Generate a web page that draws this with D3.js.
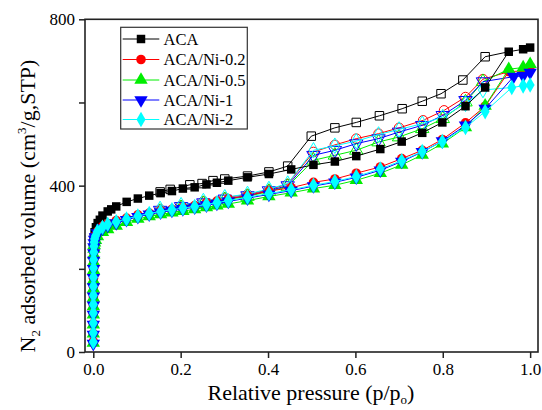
<!DOCTYPE html>
<html><head><meta charset="utf-8">
<script src="https://cdn.jsdelivr.net/npm/d3@7"></script>
<style>body{margin:0;background:#fff}svg{display:block}</style>
</head><body><svg id="c" width="542" height="410"></svg>
<script>
const seriesNames = ["ACA","ACA/Ni-0.2","ACA/Ni-0.5","ACA/Ni-1","ACA/Ni-2"];
const seriesColors = ["#000000","#ff0000","#00ee00","#0000ff","#00ffff"];
const xTicks = [0,0.2,0.4,0.6,0.8,1.0];
const yTicks = [0,200,400,600,800];
const yTickLabels = ["0","","400","","800"];

const lowX = [0.00001,0.00003,0.00006,0.0001,0.00015,0.0002,0.0003,0.0004,0.0006,0.0008,0.0011,0.0015,0.002,0.003,0.005,0.0095,0.021,0.033,0.0525,0.076,0.102,0.128,0.154,0.18,0.205,0.232,0.259,0.283,0.309,0.353,0.402,0.453,0.504,0.553,0.602,0.657,0.706,0.753,0.799,0.852,0.897];

const acaAdsX = [0.0002,0.001,0.003,0.006,0.01,0.015,0.021,0.033,0.041,0.0525,0.0764,0.102,0.128,0.154,0.18,0.205,0.232,0.259,0.283,0.309,0.353,0.402,0.453,0.504,0.553,0.602,0.657,0.706,0.753,0.799,0.852,0.897,0.951,0.984,1.0];
const acaAdsY = [262,275,288,300,310,318,328,338,343,350,361,369,376,382,387,393,396,403,407,412,420,428,439,450,458,471,488,506,527,552,591,636,722,728,732];
const acaDesX = [0.951,0.897,0.846,0.796,0.753,0.707,0.655,0.602,0.553,0.499,0.445,0.402,0.353,0.301,0.274,0.249,0.221,0.176,0.153];
const acaDesY = [722,710,654,621,603,585,568,552,539,519,447,433,423,416,412,405,402,391,385];

const ni02AdsX = lowX.concat([0.951,0.984,1.0]);
const ni02AdsY = [25,45,69,93,113,133,157,177,201,221,241,255,265,273,281,290,302,309,316,322,330,334,340,343,348,352,359,363,368,376,387,395,408,416,430,445,465,485,511,551,591,674,676,686];
const ni02DesX = [0.951,0.892,0.852,0.803,0.755,0.70,0.653,0.602,0.553,0.504,0.445,0.402,0.353,0.301,0.252,0.201,0.153];
const ni02DesY = [674,656,613,581,557,539,525,513,498,481,404,390,379,371,362,352,343];

const ni05AdsX = lowX.concat([0.951,0.984,1.0]);
const ni05AdsY = [22,44,66,90,110,130,152,172,196,216,234,248,257,263,269,278,288,295,303,312,320,326,331,335,339,343,348,352,356,364,374,383,393,401,413,430,450,474,501,540,592,680,684,692];
const ni05DesX = [0.951,0.892,0.852,0.80,0.753,0.70,0.653,0.602,0.553,0.504,0.445,0.402,0.353,0.301,0.252,0.201,0.153];
const ni05DesY = [680,650,601,561,537,517,505,485,473,461,398,386,374,366,357,347,338];

const ni1AdsX = lowX.concat([0.962,0.984,1.0]);
const ni1AdsY = [20,42,66,90,112,134,156,178,200,220,238,252,262,270,276,286,297,304,310,318,325,331,336,340,344,348,353,357,362,370,379,388,399,408,420,437,458,481,507,545,585,662,664,672];
const ni1DesX = [0.962,0.892,0.852,0.80,0.753,0.70,0.653,0.602,0.553,0.504,0.445,0.402,0.353,0.301,0.252,0.201,0.153];
const ni1DesY = [662,650,605,569,545,529,513,501,485,473,400,388,376,368,359,350,341];

const ni2AdsX = lowX.concat([0.958,0.984,1.0]);
const ni2AdsY = [24,46,70,94,114,136,158,180,202,222,240,254,264,272,279,290,300,307,313,320,327,333,338,342,346,350,355,359,364,372,381,390,401,410,422,440,460,482,506,540,578,636,640,642];
const ni2DesX = [0.958,0.892,0.852,0.80,0.753,0.70,0.653,0.602,0.553,0.504,0.445,0.402,0.353,0.301,0.252,0.201,0.153];
const ni2DesY = [636,630,597,565,549,535,523,507,496,485,405,392,380,372,363,353,344];

const adsX = [acaAdsX, ni02AdsX, ni05AdsX, ni1AdsX, ni2AdsX];
const adsY = [acaAdsY, ni02AdsY, ni05AdsY, ni1AdsY, ni2AdsY];
const desX = [acaDesX, ni02DesX, ni05DesX, ni1DesX, ni2DesX];
const desY = [acaDesY, ni02DesY, ni05DesY, ni1DesY, ni2DesY];

const FONT = '"Liberation Serif", "Times New Roman", serif';
const svg = d3.select("#c");
const L = 85, R = 538, T = 19.3, B = 352;
const x = d3.scaleLinear().domain([-0.019, 1.018]).range([L, R]);
const y = d3.scaleLinear().domain([0, 800]).range([B, T]);

const symTypes = [d3.symbolSquare, d3.symbolCircle, d3.symbolTriangle, d3.symbolTriangle, d3.symbolDiamond];
const symSizes = [72, 72, 78, 78, 70];
const rot = [0,0,0,180,0];
function sym(i){ return d3.symbol().type(symTypes[i]).size(symSizes[i])(); }

const line = d3.line().x(d=>x(d[0])).y(d=>y(d[1]));
const plot = svg.append("g");

// desorption (open)
for (let i=0;i<5;i++){
  const pts = desX[i].map((v,k)=>[v, desY[i][k]]);
  const g = plot.append("g");
  g.append("path").attr("d", line(pts)).attr("fill","none").attr("stroke",seriesColors[i]).attr("stroke-width",1);
  g.selectAll("path.m").data(pts.slice(1)).enter().append("path").attr("class","m")
    .attr("d", sym(i)).attr("transform", d=>`translate(${x(d[0])},${y(d[1])}) rotate(${rot[i]})`)
    .attr("fill","none").attr("stroke",seriesColors[i]).attr("stroke-width",1);
}
// adsorption (filled)
for (let i=0;i<5;i++){
  const pts = adsX[i].map((v,k)=>[v, adsY[i][k]]);
  const g = plot.append("g");
  g.append("path").attr("d", line(pts)).attr("fill","none").attr("stroke",seriesColors[i]).attr("stroke-width",1);
  g.selectAll("path.m").data(pts).enter().append("path").attr("class","m")
    .attr("d", sym(i)).attr("transform", d=>`translate(${x(d[0])},${y(d[1])}) rotate(${rot[i]})`)
    .attr("fill",seriesColors[i]);
}

// frame
svg.append("rect").attr("x",L).attr("y",T).attr("width",R-L).attr("height",B-T)
  .attr("fill","none").attr("stroke","#222").attr("stroke-width",1.6);

// axes
const xa = svg.append("g").attr("transform",`translate(0,${B})`)
  .call(d3.axisBottom(x).tickValues(xTicks).tickSize(6).tickPadding(5).tickFormat(d3.format(".1f")));
const ya = svg.append("g").attr("transform",`translate(${L},0)`)
  .call(d3.axisLeft(y).tickValues(yTicks).tickSize(6).tickPadding(4).tickFormat((d,i)=>yTickLabels[i]));
[xa,ya].forEach(a=>{
  a.attr("font-family", FONT).attr("font-size", 17);
  a.select(".domain").remove();
  a.selectAll(".tick line").attr("stroke","#222").attr("stroke-width",1.5);
  a.selectAll(".tick text").attr("fill","#000");
});

// axis titles
const xt = svg.append("text").attr("x",311).attr("y",400).attr("text-anchor","middle")
  .attr("font-family", FONT).attr("font-size", 22).attr("fill","#000");
xt.append("tspan").text("Relative pressure (p/p");
xt.append("tspan").attr("dy",4).attr("font-size",13).text("o");
xt.append("tspan").attr("dy",-4).text(")");

const yt = svg.append("text").attr("transform","translate(35,206) rotate(-90)").attr("text-anchor","middle")
  .attr("font-family", FONT).attr("font-size", 22).attr("fill","#000");
yt.append("tspan").text("N");
yt.append("tspan").attr("dy",5).attr("font-size",13).text("2");
yt.append("tspan").attr("dy",-5).text(" adsorbed volume (cm");
yt.append("tspan").attr("dy",-9).attr("font-size",13).text("3");
yt.append("tspan").attr("dy",9).text("/g,STP)");

// legend
const lg = svg.append("g");
lg.append("rect").attr("x",120.7).attr("y",27.3).attr("width",126.6).attr("height",101.7)
  .attr("fill","#fff").attr("stroke","#333").attr("stroke-width",1.2);
const ly = [39,59.5,80,100,119.5];
seriesNames.forEach((n,i)=>{
  lg.append("line").attr("x1",122.7).attr("x2",159.3).attr("y1",ly[i]).attr("y2",ly[i]).attr("stroke",seriesColors[i]).attr("stroke-width",1);
  lg.append("path").attr("d",sym(i)).attr("transform",`translate(141,${ly[i]}) rotate(${rot[i]})`).attr("fill",seriesColors[i]);
  lg.append("text").attr("x",163.5).attr("y",ly[i]+5.5).attr("font-family",FONT).attr("font-size",16.5).attr("fill","#000").text(n);
});
</script></body></html>
